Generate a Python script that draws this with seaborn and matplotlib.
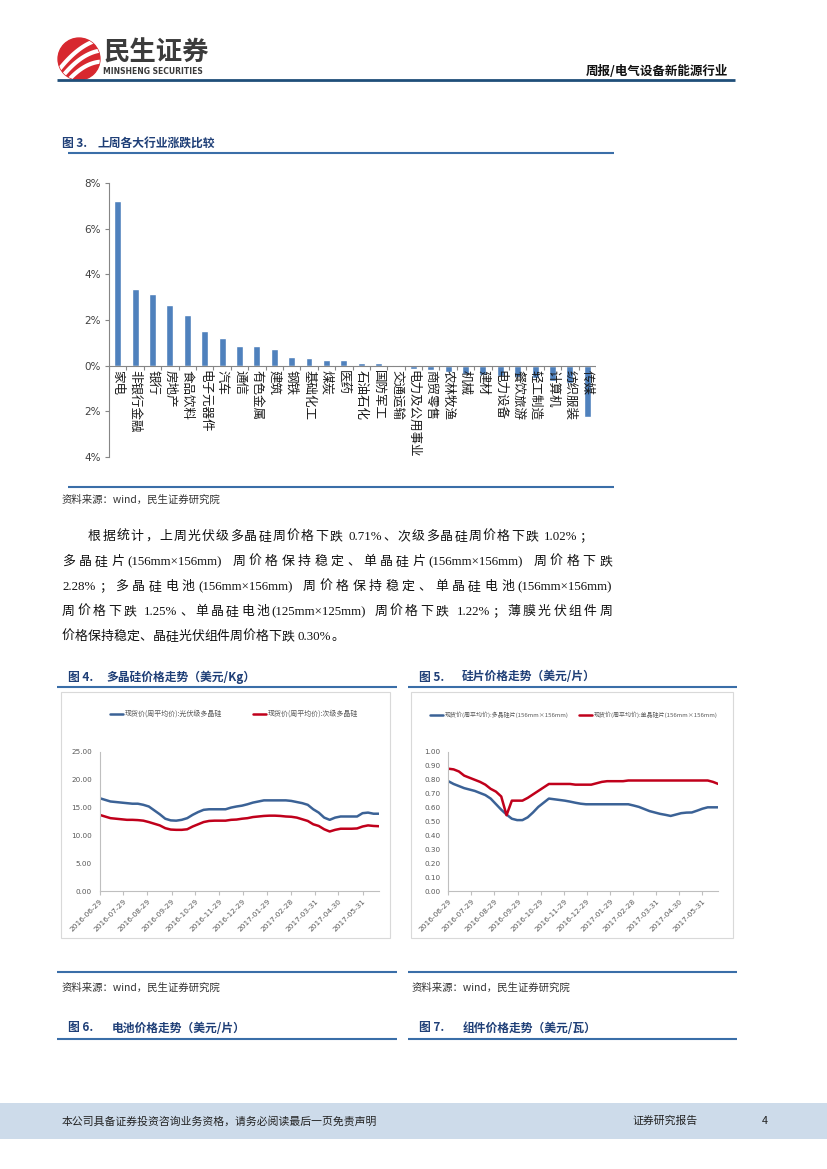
import re
import numpy as np
import pandas as pd
import matplotlib
matplotlib.use('Agg')
import matplotlib.pyplot as plt
import seaborn as sns
from matplotlib.patches import Rectangle, Circle
from matplotlib.lines import Line2D

# ---------------- data ----------------
industries = ['家电', '非银行金融', '银行', '房地产', '食品饮料', '电子元器件', '汽车', '通信',
              '有色金属', '建筑', '钢铁', '基础化工', '煤炭', '医药', '石油石化', '国防军工',
              '交通运输', '电力及公用事业', '商贸零售', '农林牧渔', '机械', '建材', '电力设备',
              '餐饮旅游', '轻工制造', '计算机', '纺织服装', '传媒']
weekly_change = [7.21, 3.34, 3.16, 2.64, 2.20, 1.54, 1.23, 0.88, 0.84, 0.75, 0.40, 0.35, 0.26,
                 0.27, 0.13, 0.13, 0.04, -0.13, -0.18, -0.26, -0.35, -0.40, -0.45, -0.50,
                 -0.55, -0.65, -0.75, -2.27]
bar_yticks = [-4, -2, 0, 2, 4, 6, 8]
bar_ylabels = ['4%', '2%', '0%', '2%', '4%', '6%', '8%']

start_date = '2016-06-29'
n_weeks = 52
poly_pv = [16.7, 16.4, 16.1, 16.0, 15.9, 15.8, 15.7, 15.7, 15.5, 15.2, 14.5, 13.8, 13.0, 12.7,
           12.65, 12.8, 13.1, 13.7, 14.2, 14.6, 14.7, 14.7, 14.7, 14.7, 15.0, 15.2, 15.35, 15.6,
           15.9, 16.1, 16.3, 16.3, 16.3, 16.3, 16.3, 16.2, 16.0, 15.8, 15.5, 14.7, 14.1, 13.2,
           12.8, 13.2, 13.4, 13.4, 13.4, 13.4, 14.0, 14.1, 13.9, 13.9]
poly_sub = [13.7, 13.4, 13.1, 13.0, 12.9, 12.8, 12.8, 12.75, 12.65, 12.4, 12.1, 11.8, 11.3, 11.05,
            11.0, 11.0, 11.1, 11.6, 12.0, 12.4, 12.6, 12.65, 12.65, 12.65, 12.8, 12.85, 13.0, 13.1,
            13.3, 13.4, 13.5, 13.55, 13.55, 13.5, 13.4, 13.35, 13.2, 12.9, 12.6, 12.0, 11.7, 11.1,
            10.7, 11.0, 11.2, 11.2, 11.2, 11.25, 11.6, 11.8, 11.7, 11.65]
wafer_multi = [0.79, 0.77, 0.755, 0.74, 0.73, 0.72, 0.705, 0.69, 0.665, 0.625, 0.585, 0.55, 0.52,
               0.51, 0.51, 0.53, 0.565, 0.605, 0.635, 0.665, 0.66, 0.655, 0.65, 0.643, 0.635,
               0.628, 0.624, 0.624, 0.624, 0.624, 0.624, 0.624, 0.624, 0.624, 0.624, 0.615, 0.605,
               0.59, 0.575, 0.565, 0.555, 0.548, 0.54, 0.55, 0.56, 0.564, 0.565, 0.578, 0.592,
               0.602, 0.602, 0.602]
wafer_mono = [0.88, 0.875, 0.86, 0.83, 0.815, 0.80, 0.785, 0.765, 0.735, 0.715, 0.68, 0.545, 0.65,
              0.65, 0.65, 0.67, 0.695, 0.72, 0.745, 0.77, 0.77, 0.77, 0.77, 0.77, 0.765, 0.765,
              0.765, 0.765, 0.775, 0.785, 0.79, 0.79, 0.79, 0.79, 0.795, 0.795, 0.795, 0.795, 0.795,
              0.795, 0.795, 0.795, 0.795, 0.795, 0.795, 0.795, 0.795, 0.795, 0.795, 0.795, 0.785,
              0.77]
date_ticks = ['2016-06-29', '2016-07-29', '2016-08-29', '2016-09-29', '2016-10-29', '2016-11-29',
              '2016-12-29', '2017-01-29', '2017-02-28', '2017-03-31', '2017-04-30', '2017-05-31']
poly_names = ['现货价(周平均价):光伏级多晶硅', '现货价(周平均价):次级多晶硅']
wafer_names = ['现货价(周平均价):多晶硅片(156mm×156mm)', '现货价(周平均价):单晶硅片(156mm×156mm)']
poly_yticks = [0, 5, 10, 15, 20, 25]
wafer_yticks = [0, 0.1, 0.2, 0.3, 0.4, 0.5, 0.6, 0.7, 0.8, 0.9, 1.0]

paragraph = [
    '根据统计，上周光伏级多晶硅周价格下跌 0.71%、次级多晶硅周价格下跌 1.02%；',
    '多晶硅片(156mm×156mm) 周价格保持稳定、单晶硅片(156mm×156mm) 周价格下跌',
    '2.28%；多晶硅电池(156mm×156mm) 周价格保持稳定、单晶硅电池(156mm×156mm)',
    '周价格下跌 1.25%、单晶硅电池(125mm×125mm) 周价格下跌 1.22%；薄膜光伏组件周',
    '价格保持稳定、晶硅光伏组件周价格下跌 0.30%。',
]

# ---------------- setup ----------------
W, H = 827, 1169
sns.set_theme(style='white')
CJK = ['Noto Sans CJK SC', 'DejaVu Sans']
plt.rcParams['font.family'] = CJK
plt.rcParams['axes.unicode_minus'] = False

fig = plt.figure(figsize=(W / 100, H / 100), dpi=100)
fig.patch.set_facecolor('white')


def fx(x):
    return x / W


def fy(y):
    return 1 - y / H


def add_ax(l, t, r, b):
    return fig.add_axes([fx(l), fy(b), (r - l) / W, (b - t) / H])


def hline(x0, x1, y, color, lw):
    fig.add_artist(Line2D([fx(x0), fx(x1)], [fy(y), fy(y)], color=color, lw=lw,
                          transform=fig.transFigure, solid_capstyle='butt'))


def txt(x, y, s, **kw):
    return fig.text(fx(x), fy(y), s, **kw)


TITLE_C = '#1F3F77'
LINE_C = '#3A6EA8'
SRC_C = '#333333'

# ---------------- header ----------------
lax = add_ax(57, 37, 101, 81)
lax.set_xlim(-1.05, 1.05)
lax.set_ylim(-1.05, 1.05)
lax.axis('off')
circ = Circle((0, 0), 1, color='#D7282F')
lax.add_patch(circ)
xs = np.linspace(-1, 1, 60)
for a, c in [(-0.55, 0.55), (-0.05, 0.5), (0.45, 0.45)]:
    ln, = lax.plot(xs, a + 0.75 * xs + c * (xs ** 2) * -0.6, color='white', lw=3.0,
                   solid_capstyle='butt')
    ln.set_clip_path(circ)
txt(104, 53, '民生证券', fontsize=19, fontweight='bold', color='#3B3B3B', va='center')
txt(103, 71, 'MINSHENG SECURITIES', fontsize=5.5, fontweight='bold', color='#3B3B3B',
    va='center', family=['DejaVu Sans'])
txt(728, 71, '周报/电气设备新能源行业', fontsize=9, fontweight='bold', color='#111111',
    ha='right', va='center')
hline(57, 735, 80, '#1F4E79', 2.0)

# ---------------- figure 3 ----------------
txt(62, 143, '图 3.', fontsize=8.5, fontweight='bold', color=TITLE_C, va='center')
txt(97, 143, '上周各大行业涨跌比较', fontsize=8.5, fontweight='bold', color=TITLE_C, va='center')
hline(68, 614, 153, LINE_C, 1.5)

ax = add_ax(109, 183, 596, 457)
df3 = pd.DataFrame({'industry': industries, 'change': weekly_change})
sns.barplot(data=df3, x='industry', y='change', color='#4F81BD', width=0.4, saturation=1, ax=ax)
ax.set_facecolor('none')
ax.set_ylim(-4, 8)
ax.set_xlim(-0.5, len(industries) - 0.5)
ax.set_yticks(bar_yticks)
ax.set_yticklabels(bar_ylabels, family=['DejaVu Sans'])
ax.set_xticks([])
ax.set_xlabel('')
ax.set_ylabel('')
for s in ['top', 'right', 'bottom']:
    ax.spines[s].set_visible(False)
ax.spines['left'].set_color('#868686')
ax.spines['left'].set_linewidth(0.8)
ax.axhline(0, color='#868686', lw=0.8, zorder=3)
ax.vlines(np.arange(-0.5, len(industries), 1), -0.18, 0, color='#868686', lw=0.8)
ax.tick_params(axis='y', left=True, length=3, width=0.8, color='#868686', labelsize=7.5,
               labelcolor='#404040', direction='out', pad=3)
for i, name in enumerate(industries):
    ax.text(i, -0.2, name, rotation=-90, ha='center', va='top', fontsize=9, color='#1A1A1A',
            zorder=5)

hline(68, 614, 487, LINE_C, 1.5)
txt(62, 500, '资料来源：wind，民生证券研究院', fontsize=7.5, color=SRC_C, va='center')

# ---------------- paragraph (justified) ----------------
renderer = fig.canvas.get_renderer()
tok_re = re.compile(r'[A-Za-z0-9.%()×]+| |.')


def justified(s, x0, x1, y, fs, justify=True):
    em = fs * 100 / 72
    toks = tok_re.findall(s)
    objs = []
    widths = []
    for t in toks:
        if t == ' ':
            objs.append(None)
            widths.append(3.5)
        elif len(t) == 1 and ord(t) > 0x2000 and t != '×':
            o = txt(x0, y, t, fontsize=fs, family=['Noto Sans CJK SC'], color='#111111',
                    va='baseline')
            objs.append(o)
            widths.append(em)
        else:
            o = txt(x0, y, t, fontsize=fs, family=['Liberation Serif'], color='#111111',
                    va='baseline')
            objs.append(o)
            widths.append(o.get_window_extent(renderer).width)
    total = sum(widths)
    gap = (x1 - x0 - total) / (len(toks) - 1) if justify and len(toks) > 1 else 0
    gap = max(gap, 0)
    x = x0
    for o, w in zip(objs, widths):
        if o is not None:
            o.set_x(fx(x))
        x += w + gap


ys = [540, 565, 590, 615, 640]
for k, line in enumerate(paragraph):
    x0 = 88 if k == 0 else 62
    x1 = 592 if k == 0 else 612
    justified(line, x0, x1, ys[k], 9.3, justify=(k < len(paragraph) - 1))

# ---------------- figure 4 / 5 titles ----------------
txt(68, 677, '图 4.', fontsize=8.5, fontweight='bold', color=TITLE_C, va='center')
txt(106, 677, '多晶硅价格走势（美元/Kg）', fontsize=8.5, fontweight='bold', color=TITLE_C, va='center')
hline(57, 397, 687, LINE_C, 1.5)
txt(419, 677, '图 5.', fontsize=8.5, fontweight='bold', color=TITLE_C, va='center')
txt(462, 677, '硅片价格走势（美元/片）', fontsize=8.5, fontweight='bold', color=TITLE_C, va='center')
hline(408, 737, 687, LINE_C, 1.5)

# chart frames
for (l, t, r, b) in [(61, 692, 390, 938), (411, 692, 733, 938)]:
    fig.add_artist(Rectangle((fx(l), fy(b)), (r - l) / W, (b - t) / H, fill=False,
                             ec='#D9D9D9', lw=0.8, transform=fig.transFigure))

dates = pd.date_range(start_date, periods=n_weeks, freq='7D')
BLUE = '#3B6296'
RED = '#C0001B'


def line_chart(box, s1, s2, names, yticks, ylim, fmt, legend_pos, legend_fs):
    l, t, r, b = box
    a = add_ax(l, t, r, b)
    df = pd.DataFrame({'date': np.concatenate([dates, dates]),
                       'price': list(s1) + list(s2),
                       'series': [names[0]] * len(s1) + [names[1]] * len(s2)})
    sns.lineplot(data=df, x='date', y='price', hue='series', hue_order=names,
                 palette=[BLUE, RED], lw=1.8, legend=False, ax=a)
    a.set_facecolor('none')
    a.set_xlim(dates[0], dates[-1])
    a.set_ylim(*ylim)
    a.set_yticks(yticks)
    a.set_yticklabels([fmt.format(v) for v in yticks], family=['DejaVu Sans'])
    a.set_xticks(pd.to_datetime(date_ticks))
    a.set_xticklabels(date_ticks, rotation=45, ha='right', rotation_mode='anchor',
                      family=['DejaVu Sans'])
    a.set_xlabel('')
    a.set_ylabel('')
    for s in ['top', 'right']:
        a.spines[s].set_visible(False)
    for s in ['left', 'bottom']:
        a.spines[s].set_color('#BFBFBF')
        a.spines[s].set_linewidth(0.8)
    a.tick_params(axis='x', bottom=True, length=3, width=0.8, color='#BFBFBF', labelsize=5.3,
                  labelcolor='#595959', pad=2)
    a.tick_params(axis='y', left=False, length=0, labelsize=5.2, labelcolor='#595959', pad=5.5)
    # legend
    (lx1, ly), (lx2, _) = legend_pos
    for lxx, col, nm in [(lx1, BLUE, names[0]), (lx2, RED, names[1])]:
        fig.add_artist(Line2D([fx(lxx), fx(lxx + 13)], [fy(ly), fy(ly)], color=col, lw=1.8,
                              transform=fig.transFigure))
        txt(lxx + 15, ly, nm, fontsize=legend_fs, color='#595959', va='center')
    return a


line_chart((99.5, 752, 379, 891), poly_pv, poly_sub, poly_names, poly_yticks, (0, 25), '{:.2f}',
           ((110, 714), (253, 714)), 5.0)
line_chart((448.3, 752, 718.3, 891), wafer_multi, wafer_mono, wafer_names, wafer_yticks, (0, 1),
           '{:.2f}', ((430, 715), (579, 715)), 4.3)

# sources
hline(57, 397, 972, LINE_C, 1.5)
hline(408, 737, 972, LINE_C, 1.5)
txt(62, 988, '资料来源：wind，民生证券研究院', fontsize=7.5, color=SRC_C, va='center')
txt(412, 988, '资料来源：wind，民生证券研究院', fontsize=7.5, color=SRC_C, va='center')

# figure 6 / 7 titles
txt(68, 1028, '图 6.', fontsize=8.5, fontweight='bold', color=TITLE_C, va='center')
txt(112, 1028, '电池价格走势（美元/片）', fontsize=8.5, fontweight='bold', color=TITLE_C, va='center')
hline(57, 397, 1039, LINE_C, 1.5)
txt(419, 1028, '图 7.', fontsize=8.5, fontweight='bold', color=TITLE_C, va='center')
txt(463, 1028, '组件价格走势（美元/瓦）', fontsize=8.5, fontweight='bold', color=TITLE_C, va='center')
hline(408, 737, 1039, LINE_C, 1.5)

# ---------------- footer ----------------
fig.add_artist(Rectangle((0, fy(1139)), 1, (1139 - 1103) / H, color='#CDDBEA', lw=0,
                         transform=fig.transFigure))
txt(62, 1121, '本公司具备证券投资咨询业务资格，请务必阅读最后一页免责声明', fontsize=7.8,
    color='#222222', va='center')
txt(632, 1121, '证券研究报告', fontsize=7.8, color='#222222', va='center')
txt(762, 1121, '4', fontsize=7.8, color='#222222', va='center')

fig.savefig('out.png', dpi=100)
